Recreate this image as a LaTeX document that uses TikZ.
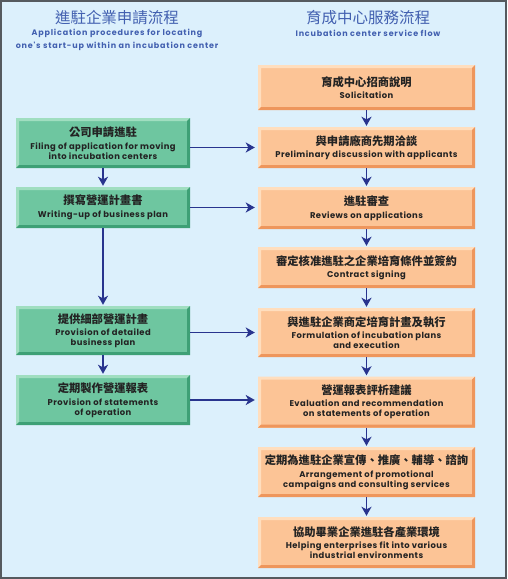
\documentclass[tikz,border=0pt]{standalone}
\usepackage{fontspec}
\setmainfont{Poppins}
\newfontfamily\cjk{Noto Sans CJK TC}
\newfontfamily\boxfont[LetterSpace=5]{Poppins}
\newfontfamily\subfont[LetterSpace=10]{Poppins}
\usetikzlibrary{arrows.meta}
\definecolor{BackClr}{RGB}{220,240,252}
\definecolor{FrameClr}{RGB}{85,90,95}
\definecolor{TitleClr}{RGB}{66,96,176}
\definecolor{GreenClr}{RGB}{110,198,160}
\definecolor{GreenDark}{RGB}{62,160,118}
\definecolor{GreenLight}{RGB}{160,222,192}
\definecolor{OrangeClr}{RGB}{252,196,150}
\definecolor{OrangeDark}{RGB}{238,150,92}
\definecolor{OrangeLight}{RGB}{255,222,190}
\definecolor{ArrowClr}{RGB}{40,52,142}
\definecolor{TextClr}{RGB}{35,35,35}

\tikzset{
  bevel/.style 2 args={path picture={
    \fill[#1] (path picture bounding box.south west)
      -- (path picture bounding box.north west)
      -- (path picture bounding box.north east)
      -- ([shift={(-3pt,-3pt)}]path picture bounding box.north east)
      -- ([shift={(3pt,-3pt)}]path picture bounding box.north west)
      -- ([shift={(3pt,3pt)}]path picture bounding box.south west) -- cycle;
    \fill[#2] (path picture bounding box.south west)
      -- (path picture bounding box.south east)
      -- (path picture bounding box.north east)
      -- ([shift={(-3pt,-3pt)}]path picture bounding box.north east)
      -- ([shift={(-3pt,3pt)}]path picture bounding box.south east)
      -- ([shift={(3pt,3pt)}]path picture bounding box.south west) -- cycle;}},
  applybox/.style={rectangle, fill=GreenClr, bevel={GreenLight}{GreenDark},
    minimum width=174pt, inner sep=1pt, align=center, text=TextClr,
    font=\boxfont\fontsize{8.4}{10}\selectfont\bfseries},
  servbox/.style={rectangle, fill=OrangeClr, bevel={OrangeLight}{OrangeDark},
    minimum width=217pt, inner sep=1pt, align=center, text=TextClr,
    font=\boxfont\fontsize{8.4}{10}\selectfont\bfseries},
  flow/.style={draw=ArrowClr, line width=1.8pt,
    -{Stealth[width=10pt,length=9pt,inset=2.5pt]}},
  ttl/.style={text=TitleClr, font=\cjk\fontsize{15.5}{15.5}\selectfont},
  subttl/.style={text=TitleClr, align=center,
    font=\subfont\fontsize{8}{13}\selectfont\bfseries}
}
\newcommand{\zh}[1]{{\cjk\bfseries\fontsize{11.3}{14}\selectfont #1}\\[2.5pt]}

\begin{document}
\begin{tikzpicture}[x=1pt,y=-1pt]
\useasboundingbox (0,0) rectangle (507,579);
\fill[BackClr] (0,0) rectangle (507,579);
\draw[FrameClr, line width=2pt] (1,1) rectangle (506,578);

% headings
\node[ttl] (tl) at (117,18) {進駐企業申請流程};
\node[subttl] (stl) at (117,40) {Application procedures for locating\\one's start-up within an incubation center};
\node[ttl] (tr) at (368,18) {育成中心服務流程};
\node[subttl] (str) at (368,33) {Incubation center service flow};

% applicant side
\node[applybox, minimum height=50pt] (file) at (103,143)
  {\zh{公司申請進駐}Filing of application for moving\\into incubation centers};
\node[applybox, minimum height=41pt] (write) at (103,207.5)
  {\zh{撰寫營運計畫書}Writing-up of business plan};
\node[applybox, minimum height=49pt] (detail) at (103,330.5)
  {\zh{提供細部營運計畫}Provision of detailed\\business plan};
\node[applybox, minimum height=50pt] (report) at (103,400)
  {\zh{定期製作營運報表}Provision of statements\\of operation};

% center side
\node[servbox, minimum height=45pt] (solicit) at (366.5,87.5)
  {\zh{育成中心招商說明}Solicitation};
\node[servbox, minimum height=41pt] (discuss) at (366.5,147.5)
  {\zh{與申請廠商先期洽談}Preliminary discussion with applicants};
\node[servbox, minimum height=42pt] (review) at (366.5,208)
  {\zh{進駐審查}Reviews on applications};
\node[servbox, minimum height=41pt] (contract) at (366.5,267.5)
  {\zh{審定核准進駐之企業培育條件並簽約}Contract signing};
\node[servbox, minimum height=49pt] (plans) at (366.5,332.5)
  {\zh{與進駐企業商定培育計畫及執行}Formulation of incubation plans\\and execution};
\node[servbox, minimum height=51pt] (evaluate) at (366.5,402)
  {\zh{營運報表評析建議}Evaluation and recommendation\\on statements of operation};
\node[servbox, minimum height=50pt] (promote) at (366.5,472)
  {\zh{定期為進駐企業宣傳、推廣、輔導、諮詢}Arrangement of promotional\\campaigns and consulting services};
\node[servbox, minimum height=51pt] (helpfit) at (366.5,542.5)
  {\zh{協助畢業企業進駐各產業環境}Helping enterprises fit into various\\industrial environments};

% arrows
\foreach \a/\b in {file/write, write/detail, detail/report,
  solicit/discuss, discuss/review, review/contract, contract/plans,
  plans/evaluate, evaluate/promote, promote/helpfit}
  \draw[flow, shorten >=1pt] (\a) -- (\b);
\draw[flow, shorten >=3pt] (file.east |- discuss) -- (discuss.west);
\draw[flow, shorten >=3pt] (write.east) -- (write.east -| review.west);
\draw[flow, shorten >=3pt] (detail.east |- plans) -- (plans.west);
\draw[flow, shorten >=3pt] (report.east) -- (report.east -| evaluate.west);
\end{tikzpicture}
\end{document}
